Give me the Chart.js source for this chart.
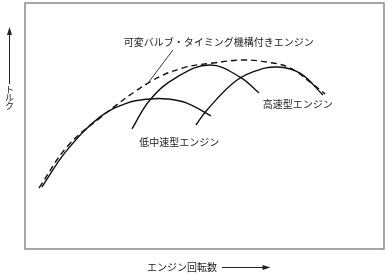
<!DOCTYPE html>
<html><head><meta charset="utf-8">
<script src="https://cdn.jsdelivr.net/npm/chart.js@4"></script>
<style>html,body{margin:0;padding:0;background:#fff}#wrap{width:387px;height:274px}</style>
</head><body><div id="wrap"><canvas id="c" width="387" height="274"></canvas></div>
<script>
const vvtX = [3.9, 11.7, 20.9, 34.8, 44.0, 52.4, 60.7, 67.4, 73.8, 79.4, 83.6];
const vvtY = [24.8, 41.5, 53.3, 67.9, 73.6, 75.6, 76.8, 76.0, 73.6, 67.9, 63.0];
const lowX = [4.7, 11.7, 20.9, 28.4, 34.8, 39.6, 45.1, 51.8];
const lowY = [25.2, 40.2, 53.7, 59.3, 61.0, 61.0, 59.3, 54.1];
const midX = [29.8, 34.8, 42.3, 51.5, 59.9, 65.2];
const midY = [48.8, 60.6, 69.9, 74.8, 69.9, 63.4];
const highX = [47.6, 50.7, 58.0, 63.5, 70.2, 76.6, 83.0];
const highY = [50.4, 56.5, 67.5, 72.0, 74.0, 71.5, 62.6];
const labels = [
  {text: '可変バルブ・タイミング機構付きエンジン', x: 54.0, y: 84.1},
  {text: '高速型エンジン', x: 76.0, y: 59.0},
  {text: '低中速型エンジン', x: 43.0, y: 43.5}
];
const leader = {x1: 41.2, y1: 80.9, x2: 34.5, y2: 67.9};
const xTitle = 'エンジン回転数';
const yTitle = 'トルク';

const pts = (xs, ys) => xs.map((x, i) => ({x, y: ys[i]}));
const FONT = '"Noto Sans CJK JP", "Noto Sans", sans-serif';

const deco = {
  id: 'deco',
  afterDraw(chart) {
    const ctx = chart.ctx, a = chart.chartArea;
    const sx = chart.scales.x, sy = chart.scales.y;
    ctx.save();
    // frame
    ctx.strokeStyle = '#8a8a8a'; ctx.lineWidth = 1.5;
    ctx.strokeRect(a.left, a.top, a.right - a.left, a.bottom - a.top);
    // leader line
    ctx.strokeStyle = '#222'; ctx.lineWidth = 0.9;
    ctx.beginPath();
    ctx.moveTo(sx.getPixelForValue(leader.x1), sy.getPixelForValue(leader.y1));
    ctx.lineTo(sx.getPixelForValue(leader.x2), sy.getPixelForValue(leader.y2));
    ctx.stroke();
    // labels
    ctx.fillStyle = '#222'; ctx.font = '10px ' + FONT;
    ctx.textAlign = 'center'; ctx.textBaseline = 'middle';
    labels.forEach(l => ctx.fillText(l.text, sx.getPixelForValue(l.x), sy.getPixelForValue(l.y)));
    // x title + arrow
    const cx = (a.left + a.right) / 2;
    const ty = a.bottom + 18;
    ctx.textAlign = 'right';
    ctx.fillText(xTitle, cx + 12.5, ty);
    ctx.strokeStyle = '#222'; ctx.lineWidth = 1;
    ctx.beginPath(); ctx.moveTo(cx + 17.5, ty + 0.5); ctx.lineTo(cx + 60, ty + 0.5); ctx.stroke();
    ctx.beginPath(); ctx.moveTo(cx + 66, ty + 0.5); ctx.lineTo(cx + 58, ty - 2); ctx.lineTo(cx + 58, ty + 3); ctx.closePath(); ctx.fill();
    // y title + arrow
    const lx = 9.5;
    ctx.textAlign = 'center'; ctx.font = '9px ' + FONT;
    [...yTitle].forEach((ch, i) => ctx.fillText(ch, lx, 90 + i * 8));
    ctx.beginPath(); ctx.moveTo(lx, 84); ctx.lineTo(lx, 33); ctx.stroke();
    ctx.beginPath(); ctx.moveTo(lx, 27); ctx.lineTo(lx - 2.5, 35); ctx.lineTo(lx + 2.5, 35); ctx.closePath(); ctx.fill();
    ctx.restore();
  }
};

const solid = (d) => ({data: d, borderColor: '#111', borderWidth: 1.4, pointRadius: 0, tension: 0.4, showLine: true, fill: false});

new Chart(document.getElementById('c'), {
  type: 'scatter',
  data: {
    datasets: [
      {data: pts(vvtX, vvtY), borderColor: '#111', borderWidth: 1.4, borderDash: [6, 4], pointRadius: 0, tension: 0.4, showLine: true, fill: false},
      solid(pts(lowX, lowY)),
      solid(pts(midX, midY)),
      solid(pts(highX, highY))
    ]
  },
  options: {
    responsive: false, animation: false,
    layout: {padding: {left: 25, right: 3, top: 3, bottom: 25}},
    plugins: {legend: {display: false}, tooltip: {enabled: false}},
    scales: {
      x: {type: 'linear', min: 0, max: 100, display: false},
      y: {type: 'linear', min: 0, max: 100, display: false}
    }
  },
  plugins: [deco]
});
</script></body></html>
